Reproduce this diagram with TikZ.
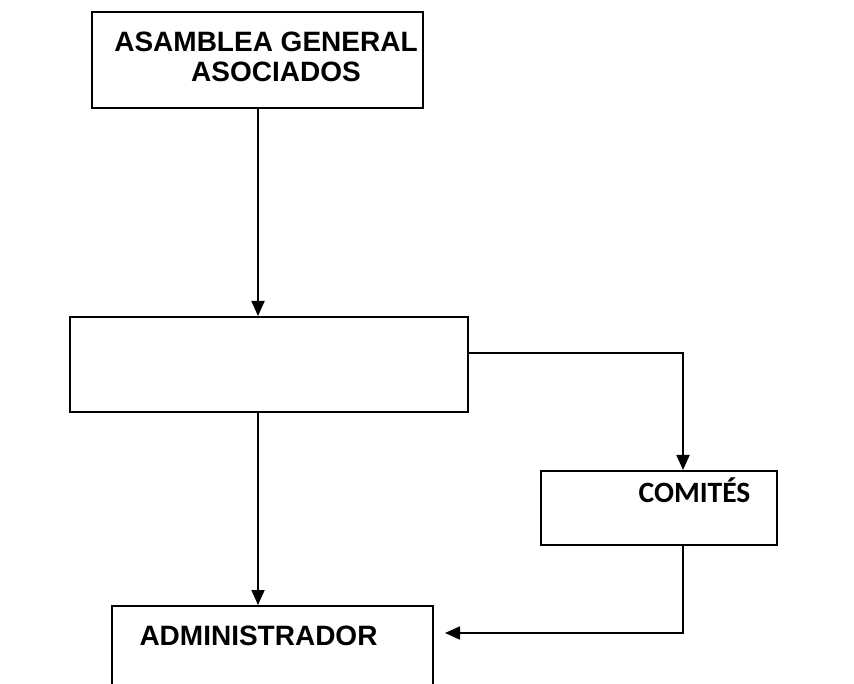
\documentclass[tikz,border=0pt]{standalone}
\usepackage{fontspec}
\setmainfont{Liberation Sans}
\newfontfamily\carlito{Carlito}
\usetikzlibrary{arrows.meta}
\begin{document}
\begin{tikzpicture}[x=1pt,y=1pt,
  boxnode/.style={draw=black, line width=2pt, inner sep=0pt, fill=white},
  lbl/.style={inner sep=0pt, anchor=base, font=\fontsize{28}{30}\selectfont\bfseries},
  conn/.style={draw=black, line width=1.8pt},
  arr/.style={conn, -{Triangle[length=15pt,width=13pt]}}]
\useasboundingbox (0,0) rectangle (854,683);
\clip (0,0) rectangle (854,683);
\fill[white] (0,0) rectangle (854,683);
% boxes
\node[boxnode, minimum width=331pt, minimum height=96pt] (top) at (257.5,623) {};
\node[boxnode, minimum width=398pt, minimum height=95pt] (mid) at (269,318.5) {};
\node[boxnode, minimum width=236pt, minimum height=74pt] (com) at (659,175) {};
\node[boxnode, minimum width=321pt, minimum height=120pt] (adm) at (272.5,17) {};
% texts
\node[lbl] (t1) at (266,631) {ASAMBLEA GENERAL};
\node[lbl] (t2) at (276,601) {ASOCIADOS};
\node[lbl] (t3) at (258.5,38) {ADMINISTRADOR};
\node[lbl, font=\carlito\fontsize{29.5}{31}\selectfont\bfseries] (t4) at (694.5,180) {COMITÉS};
% helper coordinates
\coordinate (c1) at (258,0);
\coordinate (c2) at (683,330);
\coordinate (c3) at (683,50);
\coordinate (c4) at (445,50);
% connectors
\draw[arr] (top.south -| c1) -- (mid.north -| c1);
\draw[arr] (mid.south -| c1) -- (adm.north -| c1);
\draw[arr] (mid.east |- c2) -- (c2) -- (com.north -| c2);
\draw[arr] (com.south -| c3) -- (c3) -- (c4);
\end{tikzpicture}
\end{document}
